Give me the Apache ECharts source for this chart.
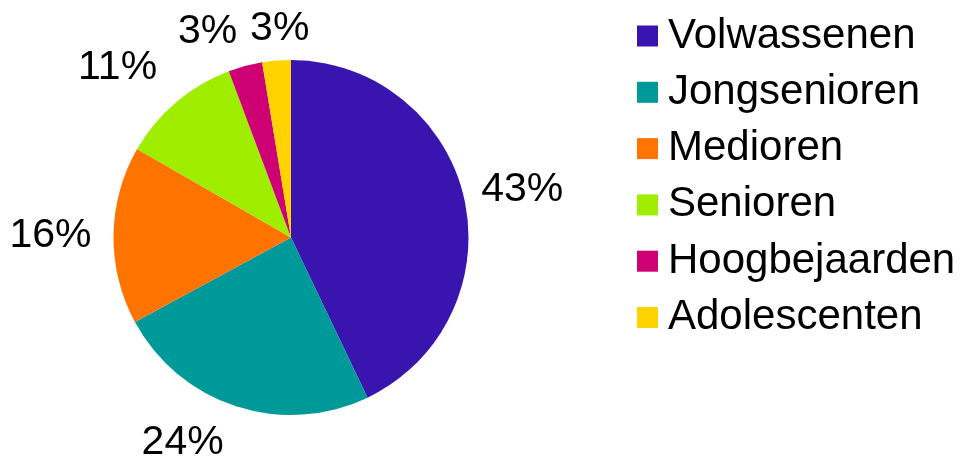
<!DOCTYPE html>
<html>
<head>
<meta charset="utf-8">
<script src="https://cdn.jsdelivr.net/npm/echarts@6/dist/echarts.min.js"></script>
<style>
  html, body { margin: 0; padding: 0; background: #fff; }
  #chart { width: 962px; height: 461px; }
</style>
</head>
<body>
<div id="chart"></div>
<script>
// ---- data ----
const categories = ['Volwassenen', 'Jongsenioren', 'Medioren', 'Senioren', 'Hoogbejaarden', 'Adolescenten'];
const shares = [42.9, 24.2, 16.2, 11.0, 3.1, 2.6];
const colors = ['#3914AF', '#009999', '#FF7400', '#9FEE00', '#CD0074', '#FFD300'];

// ---- label placement (Excel-like "outside end", with its small nudges) ----
const labelAngleShift = [1.2, 9.8, -0.3, -5.3, -7.1, 1.6];
const labelGap = [194.4, 202.6, 201, 205.6, 198.9, 194.2];
const CX = 291, CY = 237.5, R = 177.5;

const total = shares.reduce((a, b) => a + b, 0);
const midAngles = [];
let acc = 0;
shares.forEach(v => { midAngles.push((acc + v / 2) / total * 360); acc += v; });

function placeLabel(params) {
  const i = params.dataIndex;
  const phi = (midAngles[i] + labelAngleShift[i]) * Math.PI / 180;
  const ux = Math.sin(phi), uy = -Math.cos(phi);
  const a = params.labelRect.width / 2 - 1.5, b = 15;
  let lo = 0, hi = 600;
  for (let k = 0; k < 60; k++) {
    const t = (lo + hi) / 2;
    const dx = Math.max(Math.abs(t * ux) - a, 0);
    const dy = Math.max(Math.abs(t * uy) - b, 0);
    if (Math.sqrt(dx * dx + dy * dy) < labelGap[i]) lo = t; else hi = t;
  }
  return { x: CX + lo * ux, y: CY + lo * uy, align: 'center', verticalAlign: 'middle' };
}

const chart = echarts.init(document.getElementById('chart'), null, { renderer: 'canvas' });
chart.setOption({
  animation: false,
  backgroundColor: '#fff',
  color: colors,
  legend: {
    orient: 'vertical',
    left: 637,
    top: 15,
    padding: 0,
    itemWidth: 21,
    itemHeight: 21,
    itemGap: 14.3,
    icon: 'rect',
    data: categories,
    textStyle: {
      fontFamily: 'Liberation Sans, Arial, sans-serif',
      fontSize: 42,
      lineHeight: 42,
      color: '#000',
      padding: [0, 0, 0, 5]
    }
  },
  series: [{
    type: 'pie',
    center: [CX, CY],
    radius: [0, R],
    startAngle: 90,
    clockwise: true,
    avoidLabelOverlap: false,
    percentPrecision: 0,
    label: {
      show: true,
      position: 'outside',
      formatter: '{d}%',
      fontFamily: 'Liberation Sans, Arial, sans-serif',
      fontSize: 41,
      color: '#000'
    },
    labelLine: { show: false },
    labelLayout: placeLabel,
    itemStyle: { borderWidth: 0 },
    emphasis: { disabled: true },
    data: categories.map((name, i) => ({ name: name, value: shares[i] }))
  }]
});
</script>
</body>
</html>
